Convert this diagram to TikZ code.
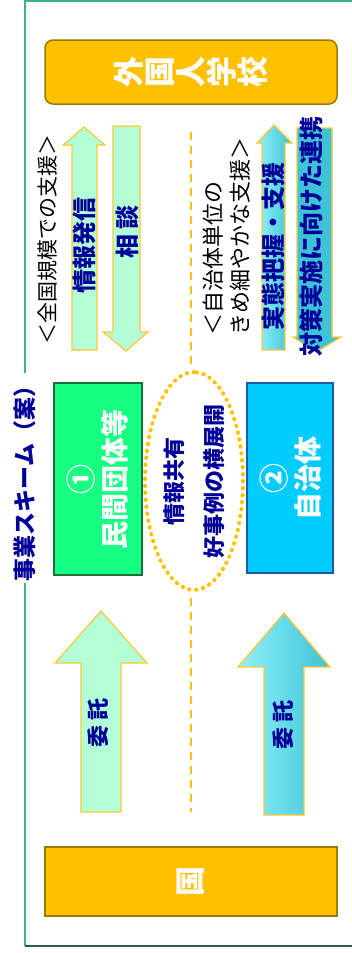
\documentclass[tikz,border=0pt]{standalone}
\usepackage{fontspec}
\setmainfont{Noto Sans CJK JP}
\usetikzlibrary{shapes.geometric}
\definecolor{schemegold}{HTML}{FFC000}
\definecolor{goldedge}{HTML}{9A7A00}
\definecolor{arrowedge}{HTML}{FFC832}
\definecolor{mint}{HTML}{B3FFD6}
\definecolor{cyanlight}{HTML}{90F2FA}
\definecolor{cyandark}{HTML}{3EC2D6}
\definecolor{ngogreen}{HTML}{16FF82}
\definecolor{ngoedge}{HTML}{1E6E3C}
\definecolor{cityblue}{HTML}{00CCFF}
\definecolor{cityedge}{HTML}{1F5CA8}
\definecolor{navytext}{HTML}{000099}
\definecolor{framegreen}{HTML}{3CB878}
\definecolor{frameshadow}{HTML}{2A5E40}
\tikzset{goalbox/.style={rectangle,draw=goldedge,fill=schemegold,line width=1.5pt,
rotate=90,inner sep=0pt,align=center,text=white}}
\tikzset{actorbox/.style={rectangle,line width=1.5pt,rotate=90,inner sep=0pt,
align=center,text=white,font=\bfseries\fontsize{28}{33}\selectfont}}
\tikzset{mintarrow/.style={draw=arrowedge,fill=mint,line width=1.2pt}}
\tikzset{cyanarrow/.style={draw=arrowedge,left color=cyanlight,right color=cyandark,line width=1.2pt}}
\tikzset{arrowlabel/.style={rotate=90,inner sep=0pt,text=navytext,
font=\bfseries\fontsize{24}{24}\selectfont}}
\tikzset{notelabel/.style={rotate=90,inner sep=0pt,text=black,align=left}}
\tikzset{dashline/.style={draw=schemegold,line width=2.5pt,dash pattern=on 8pt off 6pt}}

\begin{document}
\begin{tikzpicture}[x=1pt,y=-1pt]
    \useasboundingbox (0,0) rectangle (351,953);

    % frame
    \draw[framegreen, line width=1.5pt] (352,1) -- (25,1) -- (25,946);
    \draw[frameshadow, line width=2pt] (25,946) -- (352,946);
    \node[rotate=90, fill=white, inner sep=2pt, text=navytext,
        font=\bfseries\fontsize{23}{23}\selectfont] (title) at (25,478) {事業スキーム（案）};

    % top and bottom
    \node[goalbox, rounded corners=8pt, minimum width=64, minimum height=292,
        font=\bfseries\fontsize{31}{31}\selectfont] (school) at (191,72) {外\\国\\人\\学\\校};
    \node[goalbox, minimum width=69, minimum height=292,
        font=\bfseries\fontsize{30}{30}\selectfont] (state) at (191,881.5) {国};

    % support arrows
    \draw[mintarrow] (72,350) -- (72,145) -- (63,145) -- (84,127) -- (105,145) -- (97,145) -- (97,350) -- cycle;
    \draw[mintarrow] (113,126) -- (113,332) -- (103,332) -- (126,351) -- (148,332) -- (140,332) -- (140,126) -- cycle;
    \draw[cyanarrow] (262,350) -- (262,143) -- (257,143) -- (274,125) -- (292,143) -- (285,143) -- (285,350) -- cycle;
    \draw[cyanarrow, left color=cyandark, middle color=cyanlight!70!white, right color=cyandark]
        (297,128) -- (297,337) -- (293,337) -- (316,352) -- (341,337) -- (332,337) -- (332,128) -- cycle;

    \node[arrowlabel] (infosend) at (84,245) {情報発信};
    \node[arrowlabel] (consult) at (127,232) {相 談};
    \node[arrowlabel] (survey) at (273,246) {実態把握・支援};
    \node[arrowlabel] (coop) at (311,236) {対策実施に向けた連携};

    \node[notelabel, font=\fontsize{21}{21}\selectfont] (national) at (48,239) {＜全国規模での支援＞};
    \node[notelabel, anchor=west, font=\fontsize{22}{27}\selectfont] (local) at (226.5,336)
        {＜自治体単位の\\きめ細やかな支援＞};

    % actors
    \node[actorbox, draw=ngoedge, fill=ngogreen, minimum width=192, minimum height=88]
        (ngo) at (98,479) {{\fontsize{30}{33}\selectfont ①}\\民間団体等};
    \node[actorbox, draw=cityedge, fill=cityblue, minimum width=190, minimum height=86]
        (city) at (290,478) {{\fontsize{30}{33}\selectfont ②}\\自治体};
    \node[ellipse, rotate=90, draw=schemegold, line width=4pt, line cap=round,
        dash pattern=on 0.5pt off 6.5pt, minimum width=183, minimum height=98,
        inner sep=0pt, align=center, text=navytext,
        font=\bfseries\fontsize{22}{40}\selectfont] (share) at (194,481)
        {情報共有\\好事例の横展開};

    \coordinate (dashtop) at (191,132);
    \coordinate (dashbot) at (191,812);
    \draw[dashline] (dashtop) -- ([yshift=6pt]dashtop |- share.east);
    \draw[dashline] ([yshift=-6pt]dashbot |- share.west) -- (dashbot);

    % commission arrows
    \draw[mintarrow] (81,812) -- (81,663) -- (55,663) -- (101,611) -- (147,663) -- (121,663) -- (121,812) -- cycle;
    \draw[cyanarrow] (264,815) -- (264,667) -- (238,667) -- (284,613) -- (330,667) -- (304,667) -- (304,815) -- cycle;
    \node[arrowlabel, font=\bfseries\fontsize{22}{22}\selectfont] (entrust1) at (98,723) {委 託};
    \node[arrowlabel, font=\bfseries\fontsize{22}{22}\selectfont] (entrust2) at (283,725) {委 託};

\end{tikzpicture}
\end{document}
